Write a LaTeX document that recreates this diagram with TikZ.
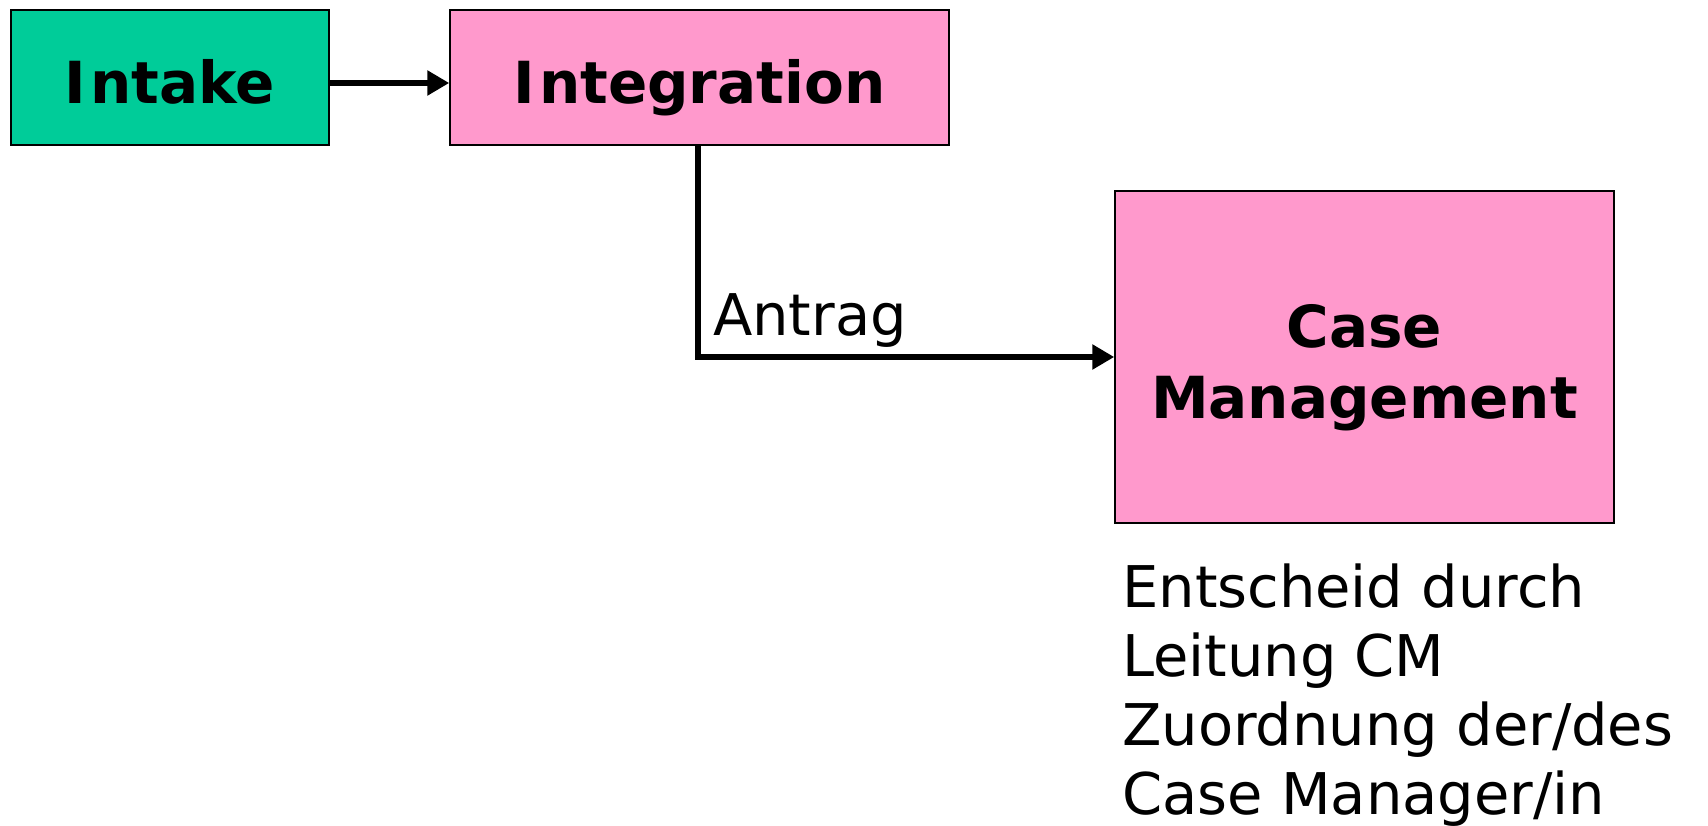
\documentclass[tikz,border=0pt]{standalone}
\usepackage{fontspec}
\setmainfont{DejaVu Sans}
\usetikzlibrary{arrows.meta}
\definecolor{boxgreen}{HTML}{00CC99}
\definecolor{boxpink}{HTML}{FF99CC}
\tikzset{
  procbox/.style={draw=black, line width=1.5pt, inner sep=0pt, font=\fontsize{58}{71}\selectfont\bfseries, align=center},
  flow/.style={line width=6pt, -{Triangle[length=22pt,width=24pt]}},
  plain/.style={inner sep=0pt, font=\fontsize{57.5}{69}\selectfont, align=left}
}
\begin{document}
\begin{tikzpicture}[x=1pt,y=-1pt]
\useasboundingbox[fill=white] (0,0) rectangle (1708,826);
\node[procbox, fill=boxgreen, minimum width=318pt, minimum height=135pt, text height=52pt, text depth=0pt] (intake) at (170,77.5) {I\kern4pt ntake};
\node[procbox, fill=boxpink, minimum width=499pt, minimum height=135pt, text height=52pt, text depth=0pt] (integ) at (699.5,77.5) {I\kern4pt ntegration};
\node[procbox, fill=boxpink, minimum width=499pt, minimum height=332pt,
  label={[font=\fontsize{58}{71}\selectfont\bfseries, align=center, inner sep=0pt, yshift=-11pt]center:Case\\Management}] (cm) at (1364.5,357) {};
\draw[flow] ([yshift=-5.5pt]intake.east) -- ([yshift=-5.5pt]integ.west);
\draw[flow, line join=miter] ([xshift=-1.5pt]integ.south) |- (cm.west);
\node[plain, anchor=base west] (antrag) at (713,335) {Antrag};
\node[plain, anchor=base west] (note) at (1122,814) {Entscheid durch\\Leitung CM\\Zuordnung der/des\\Case Manager/in};
\end{tikzpicture}
\end{document}
